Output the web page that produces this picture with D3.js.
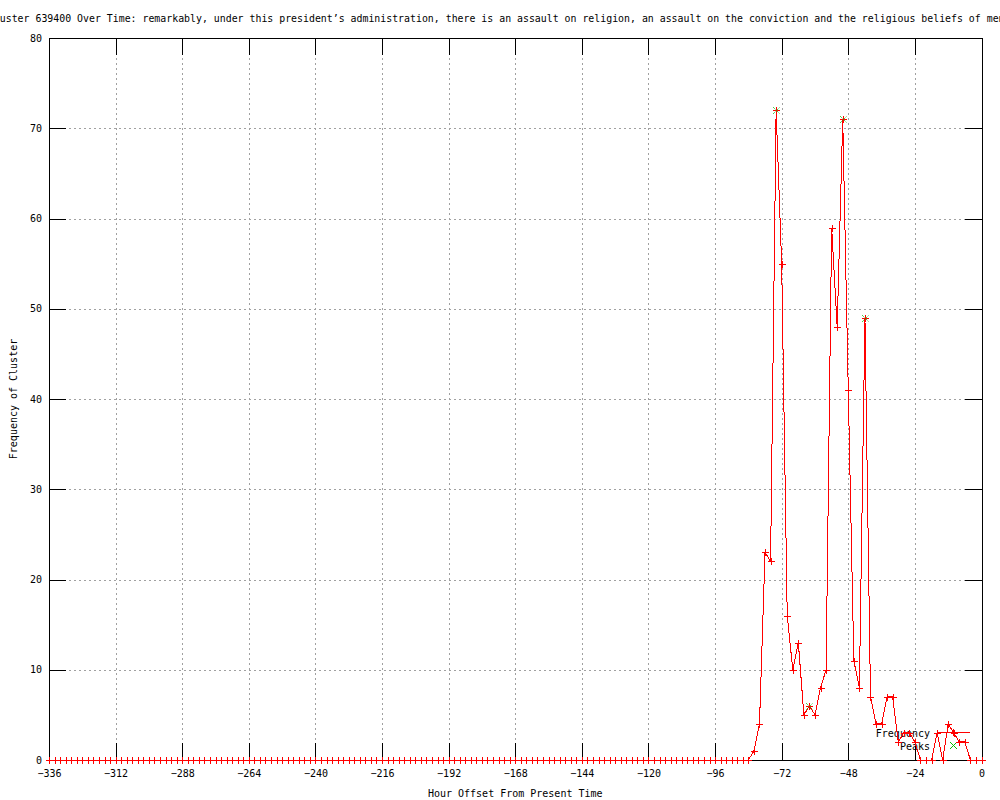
<!DOCTYPE html>
<html>
<head>
<meta charset="utf-8">
<script src="https://cdn.jsdelivr.net/npm/d3@7"></script>
<style>
  body { margin: 0; background: #fff; }
  text { font-family: "DejaVu Sans Mono", "Liberation Mono", monospace; font-size: 10px; fill: #000; }
</style>
</head>
<body>
<script>
// set the dimensions of the graph
const width = 1000;
const height = 800;

const { d3 } = window;

const titleText =
  "Frequency of Cluster 639400 Over Time: remarkably, under this president\u2019s administration, there is an assault on religion, an assault on the conviction and the religious beliefs of men and women";

// hour offsets (every 2 hours)
const hours = [
  -336, -334, -332, -330, -328, -326, -324, -322, -320, -318,
  -316, -314, -312, -310, -308, -306, -304, -302, -300, -298,
  -296, -294, -292, -290, -288, -286, -284, -282, -280, -278,
  -276, -274, -272, -270, -268, -266, -264, -262, -260, -258,
  -256, -254, -252, -250, -248, -246, -244, -242, -240, -238,
  -236, -234, -232, -230, -228, -226, -224, -222, -220, -218,
  -216, -214, -212, -210, -208, -206, -204, -202, -200, -198,
  -196, -194, -192, -190, -188, -186, -184, -182, -180, -178,
  -176, -174, -172, -170, -168, -166, -164, -162, -160, -158,
  -156, -154, -152, -150, -148, -146, -144, -142, -140, -138,
  -136, -134, -132, -130, -128, -126, -124, -122, -120, -118,
  -116, -114, -112, -110, -108, -106, -104, -102, -100, -98,
  -96, -94, -92, -90, -88, -86, -84, -82, -80, -78,
  -76, -74, -72, -70, -68, -66, -64, -62, -60, -58,
  -56, -54, -52, -50, -48, -46, -44, -42, -40, -38,
  -36, -34, -32, -30, -28, -26, -24, -22, -20, -18,
  -16, -14, -12, -10, -8, -6, -4, -2, 0,
];

// frequency of cluster per hour offset
const frequency = [
  0, 0, 0, 0, 0, 0, 0, 0, 0, 0,
  0, 0, 0, 0, 0, 0, 0, 0, 0, 0,
  0, 0, 0, 0, 0, 0, 0, 0, 0, 0,
  0, 0, 0, 0, 0, 0, 0, 0, 0, 0,
  0, 0, 0, 0, 0, 0, 0, 0, 0, 0,
  0, 0, 0, 0, 0, 0, 0, 0, 0, 0,
  0, 0, 0, 0, 0, 0, 0, 0, 0, 0,
  0, 0, 0, 0, 0, 0, 0, 0, 0, 0,
  0, 0, 0, 0, 0, 0, 0, 0, 0, 0,
  0, 0, 0, 0, 0, 0, 0, 0, 0, 0,
  0, 0, 0, 0, 0, 0, 0, 0, 0, 0,
  0, 0, 0, 0, 0, 0, 0, 0, 0, 0,
  0, 0, 0, 0, 0, 0, 0, 1, 4, 23,
  22, 72, 55, 16, 10, 13, 5, 6, 5, 8,
  10, 59, 48, 71, 41, 11, 8, 49, 7, 4,
  4, 7, 7, 2, 3, 3, 2, 0, 0, 0,
  3, 0, 4, 3, 2, 2, 0, 0, 0,
];

// detected peaks
const peakHours = [-74, -62, -50, -42];
const peakValues = [72, 6, 71, 49];

const xTicks = [-336, -312, -288, -264, -240, -216, -192, -168, -144, -120, -96, -72, -48, -24, 0];
const yTicks = [0, 10, 20, 30, 40, 50, 60, 70, 80];

const data = hours.map((h, i) => ({ h, v: frequency[i] }));
const peaks = peakHours.map((h, i) => ({ h, v: peakValues[i] }));

const x = d3.scaleLinear().domain([-336, 0]).range([49, 981.5]);
const y = d3.scaleLinear().domain([0, 80]).range([760, 38]);

const svg = d3
  .select("body")
  .append("svg")
  .attr("width", width)
  .attr("height", height);

// grid (dotted gray)
const grid = svg.append("g").attr("stroke", "#a0a0a0").attr("stroke-dasharray", "2,3").attr("shape-rendering", "crispEdges");
grid
  .selectAll(".vg")
  .data(xTicks.slice(1, -1))
  .join("line")
  .attr("x1", (d) => Math.round(x(d)) + 0.5)
  .attr("x2", (d) => Math.round(x(d)) + 0.5)
  .attr("y1", y(0))
  .attr("y2", y(80));
grid
  .selectAll(".hg")
  .data(yTicks.slice(1, -1))
  .join("line")
  .attr("y1", (d) => Math.round(y(d)) + 0.5)
  .attr("y2", (d) => Math.round(y(d)) + 0.5)
  .attr("x1", x(-336))
  .attr("x2", x(0));

// axes, ticks inward
const tick = 17;
const xAxis = svg
  .append("g")
  .attr("transform", `translate(0,${y(0)})`)
  .call(d3.axisBottom(x).tickValues(xTicks).tickSizeInner(-tick).tickSizeOuter(0).tickPadding(10));
const xTop = svg
  .append("g")
  .attr("transform", `translate(0,${y(80)})`)
  .call(d3.axisTop(x).tickValues(xTicks).tickSizeInner(-tick).tickSizeOuter(0).tickFormat(""));
const yAxis = svg
  .append("g")
  .attr("transform", `translate(${x(-336)},0)`)
  .call(d3.axisLeft(y).tickValues(yTicks).tickSizeInner(-tick).tickSizeOuter(0).tickPadding(7));
const yRight = svg
  .append("g")
  .attr("transform", `translate(${x(0)},0)`)
  .call(d3.axisRight(y).tickValues(yTicks).tickSizeInner(-tick).tickSizeOuter(0).tickFormat(""));

[xAxis, xTop, yAxis, yRight].forEach((g) => {
  g.select(".domain").remove();
  g.selectAll("line").attr("stroke", "#000").attr("shape-rendering", "crispEdges");
  g.selectAll("text").attr("font-family", null).attr("font-size", null).attr("fill", "#000");
});

// frame
svg
  .append("rect")
  .attr("x", Math.round(x(-336)) + 0.5)
  .attr("y", Math.round(y(80)) + 0.5)
  .attr("width", Math.round(x(0)) - Math.round(x(-336)))
  .attr("height", Math.round(y(0)) - Math.round(y(80)))
  .attr("fill", "none")
  .attr("stroke", "#000")
  .attr("shape-rendering", "crispEdges");

// title (cut at the left and right edges, as in the original)
svg
  .append("text")
  .attr("x", -89.4)
  .attr("y", 22)
  .style("font-size", "9.9px")
  .text(titleText);

// axis labels
svg
  .append("text")
  .attr("x", (x(-336) + x(0)) / 2)
  .attr("y", 797)
  .attr("text-anchor", "middle")
  .text("Hour Offset From Present Time");
svg
  .append("text")
  .attr("transform", `translate(17,${(y(0) + y(80)) / 2}) rotate(-90)`)
  .attr("text-anchor", "middle")
  .text("Frequency of Cluster");

// legend
const legend = svg.append("g");
legend.append("text").attr("x", 930).attr("y", 736.5).attr("text-anchor", "end").text("Frequency");
legend.append("text").attr("x", 930).attr("y", 749.5).attr("text-anchor", "end").text("Peaks");
legend
  .append("line")
  .attr("x1", 937)
  .attr("x2", 970)
  .attr("y1", 732.5)
  .attr("y2", 732.5)
  .attr("stroke", "#ff0000")
  .attr("shape-rendering", "crispEdges");

const plusPath = "M-3.5,0H3.5M0,-3.5V3.5";
const crossPath = "M-3.5,-3.5L3.5,3.5M-3.5,3.5L3.5,-3.5";

legend
  .append("path")
  .attr("d", plusPath)
  .attr("transform", "translate(953.5,732.5)")
  .attr("stroke", "#ff0000")
  .attr("fill", "none")
  .attr("shape-rendering", "crispEdges");
legend
  .append("path")
  .attr("d", crossPath)
  .attr("transform", "translate(953.5,745.5)")
  .attr("stroke", "#00c000")
  .attr("fill", "none");

// frequency line
const line = d3
  .line()
  .x((d) => x(d.h))
  .y((d) => y(d.v));

svg
  .append("path")
  .datum(data)
  .attr("d", line)
  .attr("fill", "none")
  .attr("stroke", "#ff0000")
  .attr("stroke-width", 1)
  .attr("shape-rendering", "crispEdges");

svg
  .append("g")
  .selectAll("path")
  .data(data)
  .join("path")
  .attr("d", plusPath)
  .attr("transform", (d) => `translate(${Math.round(x(d.h)) + 0.5},${Math.round(y(d.v)) + 0.5})`)
  .attr("stroke", "#ff0000")
  .attr("fill", "none")
  .attr("shape-rendering", "crispEdges");

// peaks
svg
  .append("g")
  .selectAll("path")
  .data(peaks)
  .join("path")
  .attr("d", crossPath)
  .attr("transform", (d) => `translate(${Math.round(x(d.h)) + 0.5},${Math.round(y(d.v)) + 0.5})`)
  .attr("stroke", "#00c000")
  .attr("stroke-dasharray", "1,1")
  .attr("fill", "none");
</script>
</body>
</html>
